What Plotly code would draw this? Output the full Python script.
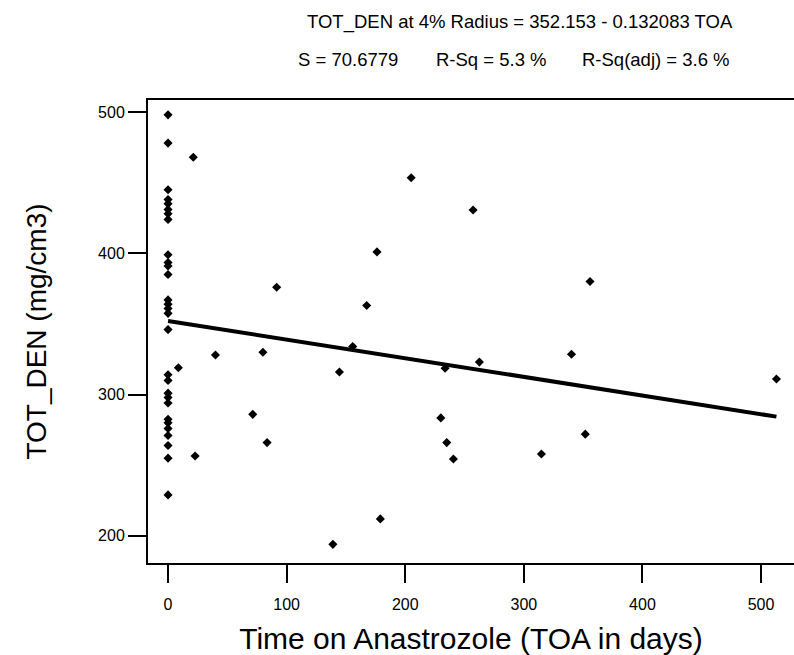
import plotly.graph_objects as go

# Data
toa_days = [0]*29 + [8.7, 21.3, 22.8, 40, 71.4, 80, 83.5, 91.6, 139, 144.5, 155.7, 167.5,
                     176.2, 179, 205, 230, 233.6, 235, 240.6, 257.2, 262.5, 314.8, 340.2,
                     351.8, 355.8, 513]
tot_den = [498, 478, 445, 438, 435, 431, 428, 424, 399, 393.5, 391, 385, 367, 364, 361,
           357.5, 346, 314, 310, 301, 298, 294, 282.5, 280, 276, 271, 264, 255, 229,
           319, 468, 256.5, 328, 286, 330, 266, 376, 194, 316, 334, 363,
           401, 212, 453.5, 283.5, 318.6, 266, 254.4, 430.6, 323, 258, 328.5,
           272, 380, 311]

intercept = 352.153
slope = -0.132083
fit_x = [min(toa_days), max(toa_days)]
fit_y = [intercept + slope * v for v in fit_x]

x_ticks = [0, 100, 200, 300, 400, 500]
y_ticks = [200, 300, 400, 500]

title_line1 = "TOT_DEN at 4% Radius = 352.153 - 0.132083 TOA"
stat_s = "S = 70.6779"
stat_rsq = "R-Sq = 5.3 %"
stat_rsqadj = "R-Sq(adj) = 3.6 %"

FONT = "Arial, Liberation Sans, sans-serif"

fig = go.Figure()
fig.add_trace(go.Scatter(x=toa_days, y=tot_den, mode="markers",
                         marker=dict(symbol="diamond", size=7, color="black"),
                         showlegend=False))
fig.add_trace(go.Scatter(x=fit_x, y=fit_y, mode="lines",
                         line=dict(color="black", width=4), showlegend=False))

W, H = 794, 655
L, R, T, B = 148, 0, 100, 92
pw, ph = W - L - R, H - T - B

def px(xp):
    return (xp - L) / pw

def py(yp):
    return 1 + (T - yp) / ph

fig.update_layout(
    width=W, height=H,
    margin=dict(l=L, r=R, t=T, b=B),
    paper_bgcolor="white", plot_bgcolor="white",
    font=dict(family=FONT, color="black"),
    xaxis=dict(range=[-16.9, 527.8], tickvals=x_ticks, ticks="outside", ticklen=18,
               tickwidth=2, tickcolor="black", showline=True, linecolor="black",
               linewidth=2, mirror=True, showgrid=False, zeroline=False,
               tickfont=dict(size=16, family=FONT), ticklabelstandoff=8,
               title=dict(text="Time on Anastrozole (TOA in days)",
                          font=dict(size=30, family=FONT), standoff=20)),
    yaxis=dict(range=[180.8, 508.5], tickvals=y_ticks, ticks="outside", ticklen=18,
               tickwidth=2, tickcolor="black", showline=True, linecolor="black",
               linewidth=2, mirror=False, showgrid=False, zeroline=False,
               tickfont=dict(size=16, family=FONT),
               title=dict(text="TOT_DEN (mg/cm3)",
                          font=dict(size=28, family=FONT), standoff=43)),
    annotations=[
        dict(text=title_line1, x=px(305), y=py(22), xref="paper", yref="paper",
             xanchor="left", yanchor="middle", showarrow=False, font=dict(size=18.5)),
        dict(text=stat_s, x=px(296), y=py(60), xref="paper", yref="paper",
             xanchor="left", yanchor="middle", showarrow=False, font=dict(size=18.5)),
        dict(text=stat_rsq, x=px(434), y=py(60), xref="paper", yref="paper",
             xanchor="left", yanchor="middle", showarrow=False, font=dict(size=18.5)),
        dict(text=stat_rsqadj, x=px(580), y=py(60), xref="paper", yref="paper",
             xanchor="left", yanchor="middle", showarrow=False, font=dict(size=18.5)),
    ],
)

fig.write_html("out.html")
